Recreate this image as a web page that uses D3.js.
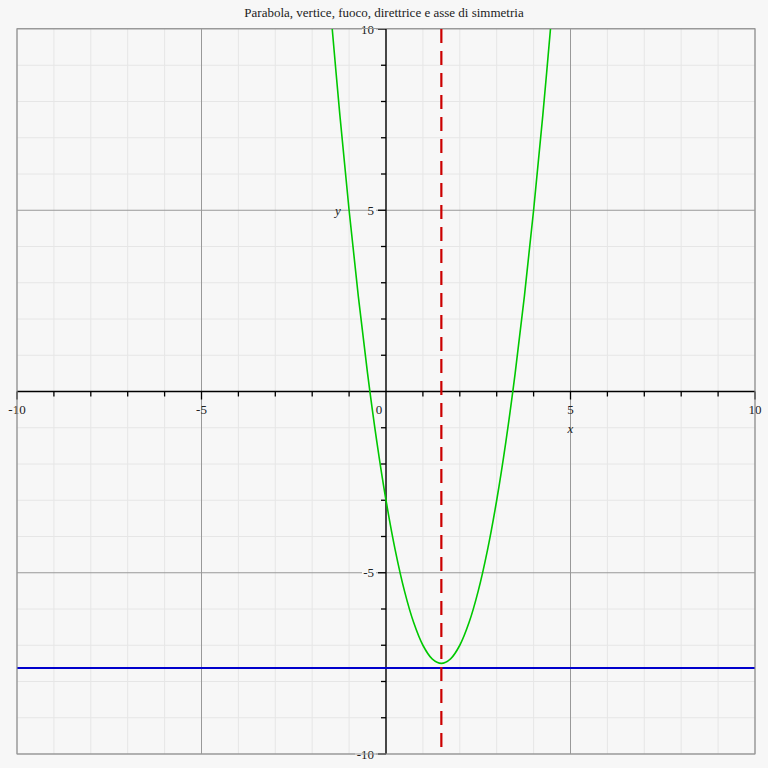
<!DOCTYPE html>
<html><head><meta charset="utf-8">
<script src="https://cdn.jsdelivr.net/npm/d3@7"></script>
<style>html,body{margin:0;padding:0;background:#f7f7f7;}svg{display:block;}</style>
</head><body>
<svg id="c" width="768" height="768"></svg>
<script>
const titleText = "Parabola, vertice, fuoco, direttrice e asse di simmetria";
const parabolaX = [-1.5,-1.25,-1.0,-0.75,-0.5,-0.25,0,0.25,0.5,0.75,1.0,1.25,1.5,1.75,2.0,2.25,2.5,2.75,3.0,3.25,3.5,3.75,4.0,4.25,4.5];
const parabolaY = [10.5,7.625,5,2.625,0.5,-1.375,-3,-4.375,-5.5,-6.375,-7,-7.375,-7.5,-7.375,-7,-6.375,-5.5,-4.375,-3,-1.375,0.5,2.625,5,7.625,10.5];
const axisOfSymmetryX = [1.5];
const directrixY = [-7.625];
const xTickLabels = [-10,-5,0,5,10];
const yTickLabels = [-10,-5,5,10];

const svg = d3.select("#c");
const L=17, R=755, T=29, B=754;
const x = d3.scaleLinear().domain([-10,10]).range([L,R]);
const y = d3.scaleLinear().domain([-10,10]).range([B,T]);
svg.append("rect").attr("width",768).attr("height",768).attr("fill","#f7f7f7");

const ints = d3.range(-10,11);
const g = svg.append("g");
// minor grid
g.selectAll(".mx").data(ints.filter(d=>d%5!==0)).join("line")
 .attr("x1",d=>x(d)).attr("x2",d=>x(d)).attr("y1",T).attr("y2",B).attr("stroke","#e6e6e6").attr("stroke-width",1);
g.selectAll(".my").data(ints.filter(d=>d%5!==0)).join("line")
 .attr("y1",d=>y(d)).attr("y2",d=>y(d)).attr("x1",L).attr("x2",R).attr("stroke","#e6e6e6").attr("stroke-width",1);
// major grid
g.selectAll(".Mx").data(ints.filter(d=>d%5===0)).join("line")
 .attr("x1",d=>x(d)).attr("x2",d=>x(d)).attr("y1",T).attr("y2",B).attr("stroke","#999").attr("stroke-width",1);
g.selectAll(".My").data(ints.filter(d=>d%5===0)).join("line")
 .attr("y1",d=>y(d)).attr("y2",d=>y(d)).attr("x1",L).attr("x2",R).attr("stroke","#999").attr("stroke-width",1);

// axes
const ax = svg.append("g");
ax.append("line").attr("x1",L).attr("x2",R).attr("y1",y(0)).attr("y2",y(0)).attr("stroke","#000").attr("stroke-width",1.3);
ax.append("line").attr("y1",T).attr("y2",B).attr("x1",x(0)).attr("x2",x(0)).attr("stroke","#000").attr("stroke-width",1.3);
ax.selectAll(".tx").data(ints.filter(d=>d!==0)).join("line")
 .attr("x1",d=>x(d)).attr("x2",d=>x(d)).attr("y1",y(0)).attr("y2",d=>y(0)+(d%5===0?8:5)).attr("stroke","#000").attr("stroke-width",1.3);
ax.selectAll(".ty").data(ints.filter(d=>d!==0)).join("line")
 .attr("y1",d=>y(d)).attr("y2",d=>y(d)).attr("x1",x(0)).attr("x2",d=>x(0)-(d%5===0?8:5)).attr("stroke","#000").attr("stroke-width",1.3);

const font = "'Liberation Serif','Times New Roman',serif";
// x labels
ax.selectAll(".lx").data(xTickLabels).join("text")
 .attr("x",d=>d===0?x(0)-7:x(d)).attr("y",y(0)+22).attr("text-anchor","middle")
 .attr("font-family",font).attr("font-size",13).attr("fill","#222")
 .text(d=>d<0?"-"+Math.abs(d):d);
// y labels with background
const yl = ax.selectAll(".ly").data(yTickLabels).join("g");
yl.append("rect").attr("x",d=>x(0)-10-(String(d).length*7)).attr("y",d=>y(d)-7).attr("width",d=>String(d).length*7).attr("height",14).attr("fill","#f7f7f7");
yl.append("text").attr("x",x(0)-12).attr("y",d=>y(d)+4.5).attr("text-anchor","end")
 .attr("font-family",font).attr("font-size",13).attr("fill","#222")
 .text(d=>d<0?"-"+Math.abs(d):d);
ax.append("text").attr("x",x(5)).attr("y",y(0)+41).attr("text-anchor","middle").attr("font-family",font).attr("font-style","italic").attr("font-size",13).attr("fill","#222").text("x");
ax.append("text").attr("x",338).attr("y",y(5)+4.5).attr("text-anchor","middle").attr("font-family",font).attr("font-style","italic").attr("font-size",13).attr("fill","#222").text("y");

// clip
svg.append("clipPath").attr("id","clip").append("rect").attr("x",L).attr("y",T).attr("width",R-L).attr("height",B-T);
const plot = svg.append("g").attr("clip-path","url(#clip)");
// directrix
plot.selectAll(".dir").data(directrixY).join("line")
 .attr("x1",L).attr("x2",R).attr("y1",d=>y(d)).attr("y2",d=>y(d)).attr("stroke","#0000cc").attr("stroke-width",2);
// parabola
const pts = parabolaX.map((v,i)=>[v,parabolaY[i]]);
plot.append("path").datum(pts)
 .attr("d",d3.line().x(d=>x(d[0])).y(d=>y(d[1])).curve(d3.curveCatmullRom))
 .attr("fill","none").attr("stroke","#00c800").attr("stroke-width",1.6);
// axis of symmetry
plot.selectAll(".sym").data(axisOfSymmetryX).join("line")
 .attr("x1",d=>x(d)).attr("x2",d=>x(d)).attr("y1",T).attr("y2",B)
 .attr("stroke","#cc0000").attr("stroke-width",2.2).attr("stroke-dasharray","14,8");

// frame
svg.append("rect").attr("x",L).attr("y",T-0.5).attr("width",R-L).attr("height",B-T+0.5).attr("fill","none").attr("stroke","#999").attr("stroke-width",1);
// title
svg.append("text").attr("x",384).attr("y",17).attr("text-anchor","middle").attr("font-family",font).attr("font-size",13).attr("fill","#222").text(titleText);
</script>
</body></html>
